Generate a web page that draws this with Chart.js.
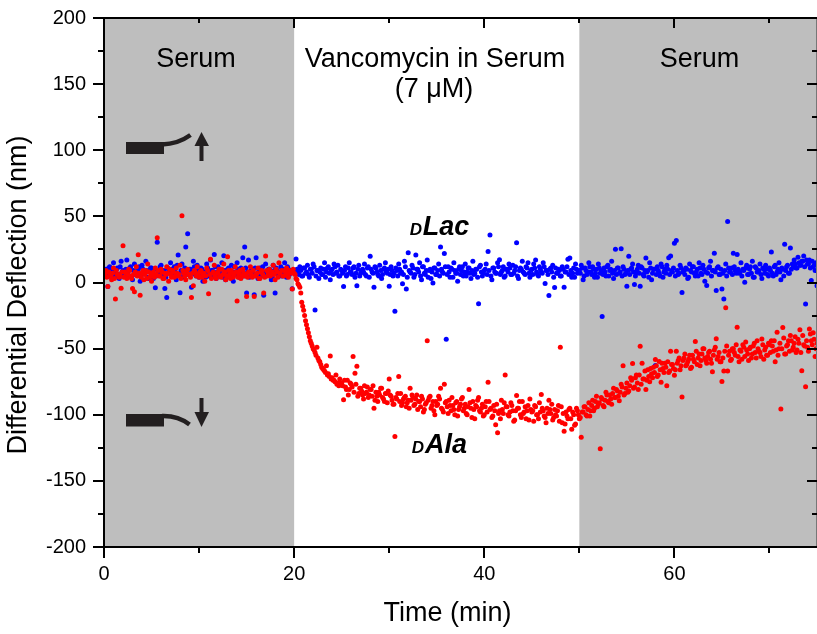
<!DOCTYPE html>
<html>
<head>
<meta charset="utf-8">
<script src="https://cdn.jsdelivr.net/npm/chart.js@4"></script>
<style>
html, body { margin: 0; padding: 0; background: #fff; }
canvas { display: block; }
</style>
</head>
<body>
<canvas id="deflectionchart" width="817" height="634"></canvas>
<script>
// values, one row is five minutes
const times = [
0,0.2,0.4,0.6,0.8,1,1.2,1.4,1.6,1.8,2,2.2,2.4,2.6,2.8,3,3.2,3.4,3.6,3.8,4,4.2,4.4,4.6,4.8,
5,5.2,5.4,5.6,5.8,6,6.2,6.4,6.6,6.8,7,7.2,7.4,7.6,7.8,8,8.2,8.4,8.6,8.8,9,9.2,9.4,9.6,9.8,
10,10.2,10.4,10.6,10.8,11,11.2,11.4,11.6,11.8,12,12.2,12.4,12.6,12.8,13,13.2,13.4,13.6,13.8,14,14.2,14.4,14.6,14.8,
15,15.2,15.4,15.6,15.8,16,16.2,16.4,16.6,16.8,17,17.2,17.4,17.6,17.8,18,18.2,18.4,18.6,18.8,19,19.2,19.4,19.6,19.8,
20,20.2,20.4,20.6,20.8,21,21.2,21.4,21.6,21.8,22,22.2,22.4,22.6,22.8,23,23.2,23.4,23.6,23.8,24,24.2,24.4,24.6,24.8,
25,25.2,25.4,25.6,25.8,26,26.2,26.4,26.6,26.8,27,27.2,27.4,27.6,27.8,28,28.2,28.4,28.6,28.8,29,29.2,29.4,29.6,29.8,
30,30.2,30.4,30.6,30.8,31,31.2,31.4,31.6,31.8,32,32.2,32.4,32.6,32.8,33,33.2,33.4,33.6,33.8,34,34.2,34.4,34.6,34.8,
35,35.2,35.4,35.6,35.8,36,36.2,36.4,36.6,36.8,37,37.2,37.4,37.6,37.8,38,38.2,38.4,38.6,38.8,39,39.2,39.4,39.6,39.8,
40,40.2,40.4,40.6,40.8,41,41.2,41.4,41.6,41.8,42,42.2,42.4,42.6,42.8,43,43.2,43.4,43.6,43.8,44,44.2,44.4,44.6,44.8,
45,45.2,45.4,45.6,45.8,46,46.2,46.4,46.6,46.8,47,47.2,47.4,47.6,47.8,48,48.2,48.4,48.6,48.8,49,49.2,49.4,49.6,49.8,
50,50.2,50.4,50.6,50.8,51,51.2,51.4,51.6,51.8,52,52.2,52.4,52.6,52.8,53,53.2,53.4,53.6,53.8,54,54.2,54.4,54.6,54.8,
55,55.2,55.4,55.6,55.8,56,56.2,56.4,56.6,56.8,57,57.2,57.4,57.6,57.8,58,58.2,58.4,58.6,58.8,59,59.2,59.4,59.6,59.8,
60,60.2,60.4,60.6,60.8,61,61.2,61.4,61.6,61.8,62,62.2,62.4,62.6,62.8,63,63.2,63.4,63.6,63.8,64,64.2,64.4,64.6,64.8,
65,65.2,65.4,65.6,65.8,66,66.2,66.4,66.6,66.8,67,67.2,67.4,67.6,67.8,68,68.2,68.4,68.6,68.8,69,69.2,69.4,69.6,69.8,
70,70.2,70.4,70.6,70.8,71,71.2,71.4,71.6,71.8,72,72.2,72.4,72.6,72.8,73,73.2,73.4,73.6,73.8,74,74.2,74.4,74.6,74.8,
75];

const dLac = [
6,10,-3,12,4,15,7,11,3,16,9,6,17,5,12,2,14,8,10,1,13,7,16,4,9,
11,3,-4,30.5,8,13,6,-4.5,-11.4,10,15,5,12,2,20.7,-7.8,14,7,26.8,36.9,10,-3.5,16,6,13,
4,11,1,8,14,5,17,9,21.2,3,12,7,15,20.2,2,10,6,13,1,8,15,4,11,18.7,26.8,
-8,17,5,9,-9.3,18.7,3,11,7,-9.6,14,6,10,2,13,-8,9,5,12,7,15,4,10,8,-4.8,
9,17.7,8,12,5,11,7,13,4,10,14,-20.7,9,3,11,6,15,8,12,2,10,14,7,13,5,
9,-3,12,6,15,8,11,4,-2.5,13,7,10,14,5,12,19.9,8,-3.6,11,6,13,3,10,15,7,
-2.8,12,5,-21.7,9,14,7,-1,16,-5,22.5,8,13,4,20.7,10,15,2,12,6,17,9,3,-0.3,11,
6,14,26.8,8,22,-43,12,4,10,15,7,1,12,9,5,14,8,11,3,16,7,10,-16,13,5,
9,14,23.5,35.9,2,11,7,15,17.2,8,12,5,10,14,6,13,9,30,3,11,16,7,12,15,4,
10,14,17,6,12,8,15,-0.8,9,-9.8,11,13,-3.8,7,10,5,12,-3.5,8,17.5,18.5,4,11,14,7,
9,13,2,11,6,15,8,12,4,10,14,7,-25.7,11,5,13,9,16,3,25.2,11,7,25.5,12,6,
-2.8,19.8,10,14,-1.5,8,13,-2.8,11,5,18.5,9,15,2,10,-62.8,12,7,14,4,10,13,18.7,20,8,
29.6,31.8,6,13,-7.6,9,11,3,14,8,12,5,10,15,7,13,1,-2.2,11,16,9,22.2,-6,12,6,
-5,-12.4,14,46.2,8,11,22.2,9,21.2,7,15,10,0.2,13,6,12,16,4,11,8,14,3,10,13,6,
11,23,5,13,8,15,2,10,29,12,7,26,14,17,11,19,13,16,20,-16.2,14,17,1.5,12,9,
-2.5];

const dAla = [
5,9,-3,7,2,11,-12.4,6,4,-4.3,27.8,8,3,10,5,-4.6,-7,12,21,-9.6,7,2,9,14,4,
1,8,11,33.8,5,10,3,7,12,1,6,9,4,11,5,13,50.5,7,2,10,6,-11.4,-2.5,8,12,
4,9,6,1,11,-8.6,17.5,7,13,3,8,5,10,14,2,19.5,6,9,4,12,-13.9,7,3,10,5,
-10.6,8,12,4,-10.6,6,11,3,9,-8,20,5,10,7,13,2,8,15,20.5,5,9,11,4,8,-5,
7,3,-1,-3.5,-15,-21,-29,-35,-41,-46,-50,-53,-49,-59,-62,-65,-67,-63,-69,-55.6,-72,-74,-70,-76,-73,
-76,-88.6,-79,-74,-81,-77,-56,-68.7,-63.4,-84,-80,-85,-78,-83,-87,-81,-86,-95,-83,-90,-85,-80,-88,-84,-91,
-73,-86,-92,-116.4,-88,-71,-84,-91,-87,-94,-89,-80,-85,-93,-88,-96,-90,-86,-98,-92,-44,-87,-95,-90,-100,
-93,-86,-80,-96,-77,-90,-99,-93,-87,-96,-91,-101,-94,-88,-97,-92,-100,-81,-95,-90,-103,-94,-87,-98,-92,
-100,-90,-75.5,-96,-102,-93,-107.6,-113.6,-97,-89,-99,-70,-94,-101,-91,-97,-104,-85.4,-95,-100,-90,-98,-103,-93,-88,
-98,-105,-94,-100,-91,-84.6,-97,-102,-95,-89,-99,-104,-96,-101,-93,-49,-106,-112.4,-98,-103,-95,-111,-100,-107,-97,
-103,-117,-98,-94,-101,-91,-97,-89,-95,-86,-92,-125.8,-88,-94,-83,-90,-85,-92,-80,-87,-82,-89.4,-77,-63,-84,
-76,-82,-72,-61.3,-79,-70,-81,-48.2,-61,-73,-81,-66,-75,-69,-64,-58.3,-71,-59.7,-75.5,-65,-61,-78,-68,-52,-62,
-70.2,-52,-59,-66,-86.6,-57,-63,-60,-55,-64,-58,-44.7,-62,-54,-59,-50,-57,-61,-53,-58,-67.4,-51,-42.6,-56,-60,
-74.8,-67,-19,-67,-52,-58,-50,-55,-33.8,-60,-52,-47,-56,-51,-59,-49,-54,-46,-57,-50,-53,-42.7,-58,-49,-55,
-47,-44,-52,-60,-37.6,-50,-95.7,-34,-54,-48,-44,-40.1,-51,-46,-53,-43,-35.8,-66.7,-47,-78.8,-49,-35.1,-44,-38,-56,
-46];

// the dense middle of each trace, sampled between the rows above
const timesMid = [
0.1,0.3,0.5,0.7,0.9,1.1,1.3,1.5,1.7,1.9,2.1,2.3,2.5,2.7,2.9,3.1,3.3,3.5,3.7,3.9,4.1,4.3,4.5,4.7,4.9,
5.1,5.3,5.5,5.7,5.9,6.1,6.3,6.5,6.7,6.9,7.1,7.3,7.5,7.7,7.9,8.1,8.3,8.5,8.7,8.9,9.1,9.3,9.5,9.7,9.9,
10.1,10.3,10.5,10.7,10.9,11.1,11.3,11.5,11.7,11.9,12.1,12.3,12.5,12.7,12.9,13.1,13.3,13.5,13.7,13.9,14.1,14.3,14.5,14.7,14.9,
15.1,15.3,15.5,15.7,15.9,16.1,16.3,16.5,16.7,16.9,17.1,17.3,17.5,17.7,17.9,18.1,18.3,18.5,18.7,18.9,19.1,19.3,19.5,19.7,19.9,
20.1,20.3,20.5,20.7,20.9,21.1,21.3,21.5,21.7,21.9,22.1,22.3,22.5,22.7,22.9,23.1,23.3,23.5,23.7,23.9,24.1,24.3,24.5,24.7,24.9,
25.1,25.3,25.5,25.7,25.9,26.1,26.3,26.5,26.7,26.9,27.1,27.3,27.5,27.7,27.9,28.1,28.3,28.5,28.7,28.9,29.1,29.3,29.5,29.7,29.9,
30.1,30.3,30.5,30.7,30.9,31.1,31.3,31.5,31.7,31.9,32.1,32.3,32.5,32.7,32.9,33.1,33.3,33.5,33.7,33.9,34.1,34.3,34.5,34.7,34.9,
35.1,35.3,35.5,35.7,35.9,36.1,36.3,36.5,36.7,36.9,37.1,37.3,37.5,37.7,37.9,38.1,38.3,38.5,38.7,38.9,39.1,39.3,39.5,39.7,39.9,
40.1,40.3,40.5,40.7,40.9,41.1,41.3,41.5,41.7,41.9,42.1,42.3,42.5,42.7,42.9,43.1,43.3,43.5,43.7,43.9,44.1,44.3,44.5,44.7,44.9,
45.1,45.3,45.5,45.7,45.9,46.1,46.3,46.5,46.7,46.9,47.1,47.3,47.5,47.7,47.9,48.1,48.3,48.5,48.7,48.9,49.1,49.3,49.5,49.7,49.9,
50.1,50.3,50.5,50.7,50.9,51.1,51.3,51.5,51.7,51.9,52.1,52.3,52.5,52.7,52.9,53.1,53.3,53.5,53.7,53.9,54.1,54.3,54.5,54.7,54.9,
55.1,55.3,55.5,55.7,55.9,56.1,56.3,56.5,56.7,56.9,57.1,57.3,57.5,57.7,57.9,58.1,58.3,58.5,58.7,58.9,59.1,59.3,59.5,59.7,59.9,
60.1,60.3,60.5,60.7,60.9,61.1,61.3,61.5,61.7,61.9,62.1,62.3,62.5,62.7,62.9,63.1,63.3,63.5,63.7,63.9,64.1,64.3,64.5,64.7,64.9,
65.1,65.3,65.5,65.7,65.9,66.1,66.3,66.5,66.7,66.9,67.1,67.3,67.5,67.7,67.9,68.1,68.3,68.5,68.7,68.9,69.1,69.3,69.5,69.7,69.9,
70.1,70.3,70.5,70.7,70.9,71.1,71.3,71.5,71.7,71.9,72.1,72.3,72.5,72.7,72.9,73.1,73.3,73.5,73.7,73.9,74.1,74.3,74.5,74.7,74.9];

const dLacMid = [
8,5,11,7,9,4,10,6,12,8,5,10,7,11,4,9,6,8,12,5,10,7,9,3,11,
7,10,5,8,12,6,9,4,11,7,10,5,8,13,6,9,4,11,8,6,10,7,12,5,9,
6,10,8,4,11,7,9,5,12,8,6,10,4,9,7,11,5,8,12,6,10,7,9,5,11,
8,4,10,7,11,6,9,5,12,8,6,10,7,4,9,11,6,8,5,10,7,12,6,9,8,
7,10,6,9,5,11,8,6,10,7,12,5,9,8,6,10,4,11,7,9,6,12,8,5,10,
7,9,5,11,8,6,12,7,10,5,9,8,6,11,4,10,7,12,8,5,9,6,11,8,10,
6,9,7,11,5,10,8,6,12,4,9,7,11,6,10,8,5,12,7,9,4,10,8,11,6,
9,5,10,7,12,6,8,11,4,9,7,10,6,12,8,5,11,7,9,6,10,4,12,8,7,
10,6,9,5,11,8,7,12,6,9,4,10,8,11,6,7,12,5,9,10,8,6,11,7,9,
6,11,8,5,10,7,12,9,6,10,8,4,11,7,9,5,10,8,12,6,9,7,4,10,8,
7,11,5,9,8,12,6,10,7,4,11,9,6,8,12,5,10,7,9,6,11,8,5,10,7,
9,6,11,8,5,10,7,12,6,9,8,4,11,7,10,6,9,5,12,8,7,10,6,9,11,
5,9,7,11,8,6,10,4,9,12,7,8,5,11,6,10,8,7,12,5,9,8,11,6,10,
7,9,5,11,8,6,12,7,10,8,5,9,11,6,10,7,4,12,8,9,6,11,7,10,5,
9,7,12,6,10,8,11,5,9,13,7,10,12,14,11,15,13,16,12,17,14,11,16,13,15];

const dAlaMid = [
6,4,8,5,7,3,9,6,5,8,4,7,6,9,3,6,8,5,7,4,9,6,3,8,5,
7,4,6,9,5,8,3,6,7,10,4,8,5,7,6,3,9,5,8,6,4,7,9,5,6,
8,4,7,5,9,6,3,8,5,7,10,4,6,8,5,9,3,7,6,8,4,9,5,7,6,
4,8,6,9,5,7,3,8,6,4,9,7,5,8,6,10,4,7,9,5,8,6,9,7,10,
6,2,-2,-8,-18,-25,-32,-38,-44,-48,-51,-55,-57,-60,-64,-66,-68,-70,-71,-73,-74,-75,-77,-78,-76,
-78,-74,-81,-85,-76,-79,-83,-77,-86,-80,-82,-88,-84,-79,-85,-81,-78,-89,-86,-83,-80,-87,-90,-84,-82,
-85,-89,-92,-87,-84,-90,-93,-88,-86,-91,-95,-89,-87,-92,-85,-90,-94,-88,-96,-91,-89,-86,-93,-97,-90,
-92,-88,-95,-98,-91,-94,-89,-97,-93,-100,-90,-96,-92,-87,-95,-99,-94,-91,-102,-96,-93,-89,-97,-95,-101,
-94,-98,-90,-95,-101,-97,-92,-99,-103,-96,-91,-94,-100,-98,-93,-105,-97,-95,-90,-102,-99,-94,-97,-104,-96,
-97,-93,-100,-103,-98,-95,-101,-106,-99,-96,-92,-102,-100,-97,-105,-94,-99,-107,-101,-96,-103,-98,-108,-95,-100,
-102,-98,-94,-100,-96,-101,-93,-97,-90,-94,-91,-87,-93,-89,-85,-91,-88,-84,-87,-81,-86,-83,-79,-85,-80,
-83,-78,-74,-80,-72,-76,-70,-77,-73,-67,-74,-71,-65,-72,-68,-63,-70,-66,-61,-68,-64,-60,-67,-62,-65,
-66,-61,-57,-63,-59,-54,-62,-58,-65,-55,-60,-52,-57,-63,-54,-50,-59,-56,-52,-61,-55,-49,-58,-53,-60,
-57,-52,-48,-55,-59,-50,-53,-47,-56,-51,-58,-49,-45,-54,-50,-57,-48,-53,-44,-52,-56,-47,-51,-55,-46,
-53,-48,-44,-51,-55,-46,-50,-42,-54,-47,-52,-44,-49,-41,-51,-46,-53,-40,-48,-44,-52,-39,-47,-43,-50];

// serum phases, start and end in minutes
const serumStarts = [0, 50];
const serumEnds = [20, 75];

const xMajorTicks = [0, 20, 40, 60];
const xMinorTicks = [10, 30, 50, 70];
const yMajorTicks = [-200, -150, -100, -50, 0, 50, 100, 150, 200];
const yMinorTicks = [-175, -125, -75, -25, 25, 75, 125, 175];

const FONT = '"Liberation Sans", Arial, sans-serif';
const INK = "#231f20";

function to_points(values, when) {
    return values.map(function (value, i) {
        return { x: when[i], y: value };
    });
}

function draw_label(ctx, text, x, y, font) {
    ctx.font = font;
    ctx.fillStyle = "#000";
    ctx.textAlign = "center";
    ctx.textBaseline = "alphabetic";
    ctx.fillText(text, x, y);
}

function draw_triangle(ctx, tipY, baseY) {
    ctx.beginPath();
    ctx.moveTo(201.5, tipY);
    ctx.lineTo(194.5, baseY);
    ctx.lineTo(209, baseY);
    ctx.closePath();
    ctx.fill();
}

function draw_icons(ctx) {
    // little bent cantilevers with their arrows
    ctx.fillStyle = INK;
    ctx.strokeStyle = INK;
    ctx.fillRect(126, 142, 38, 12);
    ctx.fillRect(126, 414, 38, 12.5);
    ctx.lineWidth = 4.5;
    ctx.beginPath();
    ctx.moveTo(162, 144.5);
    ctx.quadraticCurveTo(178, 144, 190.5, 135);
    ctx.stroke();
    ctx.beginPath();
    ctx.moveTo(162, 416);
    ctx.quadraticCurveTo(178, 415.5, 189.5, 424.5);
    ctx.stroke();
    ctx.fillRect(199.5, 145, 4, 16);
    ctx.fillRect(199.5, 398, 4, 15);
    draw_triangle(ctx, 132, 146);
    draw_triangle(ctx, 427, 412);
}

const serumBands = {
    id: "serumBands",
    beforeDatasetsDraw(chart) {
        const ctx = chart.ctx;
        const area = chart.chartArea;
        const x = chart.scales.x;
        ctx.save();
        ctx.fillStyle = "#bebebe";
        serumStarts.forEach(function (start, i) {
            const left = x.getPixelForValue(start);
            ctx.fillRect(left, area.top, x.getPixelForValue(serumEnds[i]) - left, area.bottom - area.top);
        });
        ctx.restore();
    }
};

const frameAndText = {
    id: "frameAndText",
    afterDatasetsDraw(chart) {
        const ctx = chart.ctx;
        const area = chart.chartArea;
        const x = chart.scales.x;
        const y = chart.scales.y;
        ctx.save();
        ctx.strokeStyle = "#777";
        ctx.lineWidth = 1;
        ctx.beginPath();
        ctx.moveTo(area.right - 0.5, area.top);
        ctx.lineTo(area.right - 0.5, area.bottom);
        ctx.stroke();
        ctx.strokeStyle = "#000";
        ctx.lineWidth = 2;
        ctx.beginPath();
        ctx.moveTo(area.right, area.top);
        ctx.lineTo(area.left, area.top);
        ctx.lineTo(area.left, area.bottom);
        ctx.lineTo(area.right, area.bottom);
        ctx.stroke();

        function x_ticks(values, below, inside) {
            values.forEach(function (value) {
                const px = Math.round(x.getPixelForValue(value));
                ctx.beginPath();
                ctx.moveTo(px, area.bottom);
                ctx.lineTo(px, area.bottom + below);
                ctx.moveTo(px, area.top);
                ctx.lineTo(px, area.top + inside);
                ctx.stroke();
            });
        }
        function y_ticks(values, outside, inside) {
            values.forEach(function (value) {
                const py = Math.round(y.getPixelForValue(value));
                ctx.beginPath();
                ctx.moveTo(area.left, py);
                ctx.lineTo(area.left - outside, py);
                ctx.moveTo(area.right, py);
                ctx.lineTo(area.right - inside, py);
                ctx.stroke();
            });
        }
        x_ticks(xMajorTicks, 11, 10);
        x_ticks(xMinorTicks, 6, 5);
        y_ticks(yMajorTicks, 11, 10);
        y_ticks(yMinorTicks, 6, 5);

        draw_icons(ctx);

        const big = "27px " + FONT;
        draw_label(ctx, "Serum", 196, 67, big);
        draw_label(ctx, "Serum", 699.5, 67, big);
        draw_label(ctx, "Vancomycin in Serum", 435, 67, big);
        draw_label(ctx, "(7 μM)", 434, 97, big);

        draw_label(ctx, "D", 416, 235, "italic bold 17px " + FONT);
        draw_label(ctx, "Lac", 446, 235, "italic bold 27px " + FONT);
        draw_label(ctx, "D", 418, 453, "italic bold 17px " + FONT);
        draw_label(ctx, "Ala", 446, 453, "italic bold 27px " + FONT);

        // axis titles sit off centre in the original
        draw_label(ctx, "Time (min)", 447.5, 621, big);
        ctx.translate(26, 295);
        ctx.rotate(-Math.PI / 2);
        draw_label(ctx, "Differential Deflection (nm)", 0, 0, big);
        ctx.restore();
    }
};

function on_load() {
    const dot = { borderWidth: 0, pointRadius: 2.5 };
    new Chart(document.getElementById("deflectionchart"), {
        type: "scatter",
        data: {
            // chart.js paints the first dataset last, red has to end up on top
            datasets: [
                Object.assign({ label: "dAla", backgroundColor: "#ff0000",
                    data: to_points(dAla, times).concat(to_points(dAlaMid, timesMid)) }, dot),
                Object.assign({ label: "dLac", backgroundColor: "#0000ff",
                    data: to_points(dLac, times).concat(to_points(dLacMid, timesMid)) }, dot)
            ]
        },
        options: {
            responsive: false,
            animation: false,
            layout: { autoPadding: false, padding: { top: 18, left: 0, right: 0, bottom: 0 } },
            plugins: { legend: { display: false }, tooltip: { enabled: false } },
            scales: {
                x: {
                    type: "linear",
                    min: 0,
                    max: 75,
                    grid: { display: false },
                    border: { display: false },
                    afterBuildTicks(scale) {
                        scale.ticks = xMajorTicks.map(function (value) { return { value: value }; });
                    },
                    afterFit(scale) {
                        scale.height = 87;
                        scale.paddingLeft = 0;
                        scale.paddingRight = 0;
                    },
                    ticks: {
                        maxRotation: 0,
                        color: "#000",
                        padding: 7,
                        font: { family: FONT, size: 20 }
                    }
                },
                y: {
                    min: -200,
                    max: 200,
                    grid: { display: false },
                    border: { display: false },
                    afterFit(scale) {
                        scale.width = 104;
                        scale.paddingTop = 0;
                        scale.paddingBottom = 0;
                    },
                    ticks: {
                        stepSize: 50,
                        color: "#000",
                        padding: 10,
                        font: { family: FONT, size: 20 }
                    }
                }
            }
        },
        plugins: [serumBands, frameAndText]
    });
}

window.addEventListener("load", on_load);
</script>
</body>
</html>
